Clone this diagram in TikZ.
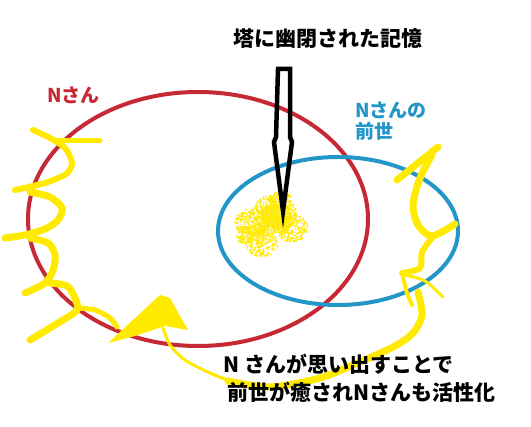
\documentclass[tikz,border=0pt]{standalone}
\usepackage{fontspec}
\setmainfont{Noto Sans CJK JP}
\definecolor{redc}{RGB}{198,40,52}
\definecolor{bluec}{RGB}{35,150,200}
\definecolor{yel}{RGB}{255,234,0}
\begin{document}
\begin{tikzpicture}[x=1pt,y=-1pt,
  ys/.style={draw=yel, line cap=round, line join=round},
  lab/.style={inner sep=0pt, anchor=west, font=\bfseries\fontsize{21}{24}\selectfont}]
\useasboundingbox (0,0) rectangle (531,427);
\fill[white] (0,0) rectangle (531,427);
% ellipses
\draw[redc, line width=4pt] (198,219) ellipse [x radius=170pt, y radius=127pt];
\draw[bluec, line width=4pt] (338,231) ellipse [x radius=120pt, y radius=74pt];
% yellow blob (irregular speckled patch)
\fill[yel, opacity=0.8] (276,216) ellipse [x radius=15pt, y radius=12pt];
\fill[yel, opacity=0.5] (258,232) ellipse [x radius=12pt, y radius=10pt];
\pgfmathsetseed{7}
\foreach \cx/\cy/\rx/\ry/\n in {275/214/22/20/450, 252/222/17/14/220, 292/228/16/14/220, 262/244/16/13/200, 280/200/12/8/110, 245/235/10/9/90}{
  \foreach \i in {1,...,\n}{
    \pgfmathsetmacro{\a}{rnd*360}
    \pgfmathsetmacro{\r}{sqrt(rnd)}
    \fill[yel] ({\cx+\rx*\r*cos(\a)},{\cy+\ry*\r*sin(\a)}) circle (1pt);
  }
}
% left squiggle
\draw[ys, line width=6pt] plot[smooth, tension=0.5] coordinates {(33,130) (50,138) (65,148) (72,163) (66,174) (45,183) (15,190)};
\draw[ys, line width=5pt] (55,141) -- (100,141);
\draw[ys, line width=7pt] plot[smooth, tension=0.5] coordinates {(30,192) (50,197) (62,208) (58,220) (45,229) (25,235) (5,238)};
\draw[ys, line width=7pt] plot[smooth, tension=0.5] coordinates {(30,238) (48,243) (55,255) (53,270) (45,283) (25,293)};
\draw[ys, line width=7pt] plot[smooth, tension=0.5] coordinates {(50,283) (67,286) (75,298) (77,310) (63,320) (30,340)};
\draw[ys, line width=5pt] plot[smooth, tension=0.5] coordinates {(77,308) (95,310) (110,318) (117,327)};
\fill[yel] (108,343) -- (160,295) -- (170,298) -- (188,330) -- (165,326) -- (135,336) -- cycle;
\draw[ys, line width=3pt] plot[smooth, tension=0.5] coordinates {(163,328) (170,345) (185,360) (210,373) (235,383)};
% right squiggle
\draw[ys, line width=7pt] (397,180) -- (438,147);
\draw[ys, line width=7pt] plot[smooth, tension=0.5] coordinates {(432,155) (420,178) (413,205) (418,225) (432,236) (455,224)};
\draw[ys, line width=6pt] plot[smooth, tension=0.5] coordinates {(432,238) (422,252) (420,268) (402,273)};
\draw[ys, line width=3pt] plot[smooth, tension=0.5] coordinates {(405,275) (425,281) (443,297)};
\draw[ys, line width=4pt] plot[smooth, tension=0.5] coordinates {(403,277) (407,293) (412,305)};
\draw[ys, line width=7pt] plot[smooth, tension=0.5] coordinates {(418,292) (422,315) (413,333) (395,346) (360,362) (320,378) (270,387) (228,381)};
% hollow arrow
\draw[black, line width=4.5pt, line join=miter] (278,69) -- (290,69) -- (290,137) -- (292,142) -- (283,211) -- (274,142) -- (276,137) -- cycle;
% texts
\node[lab] (title) at (233,39) {塔に幽閉された記憶};
\node[lab, text=redc, font=\bfseries\fontsize{19}{21}\selectfont] (nsan) at (47,95) {Nさん};
\node[lab, text=bluec, align=left, font=\bfseries\fontsize{19}{21}\selectfont] (zense) at (355,121) {Nさんの\\前世};
\node[lab] (l1) at (223,364) {N さんが思い出すことで};
\node[lab] (l2) at (227,392) {前世が癒されNさんも活性化};
\end{tikzpicture}
\end{document}
